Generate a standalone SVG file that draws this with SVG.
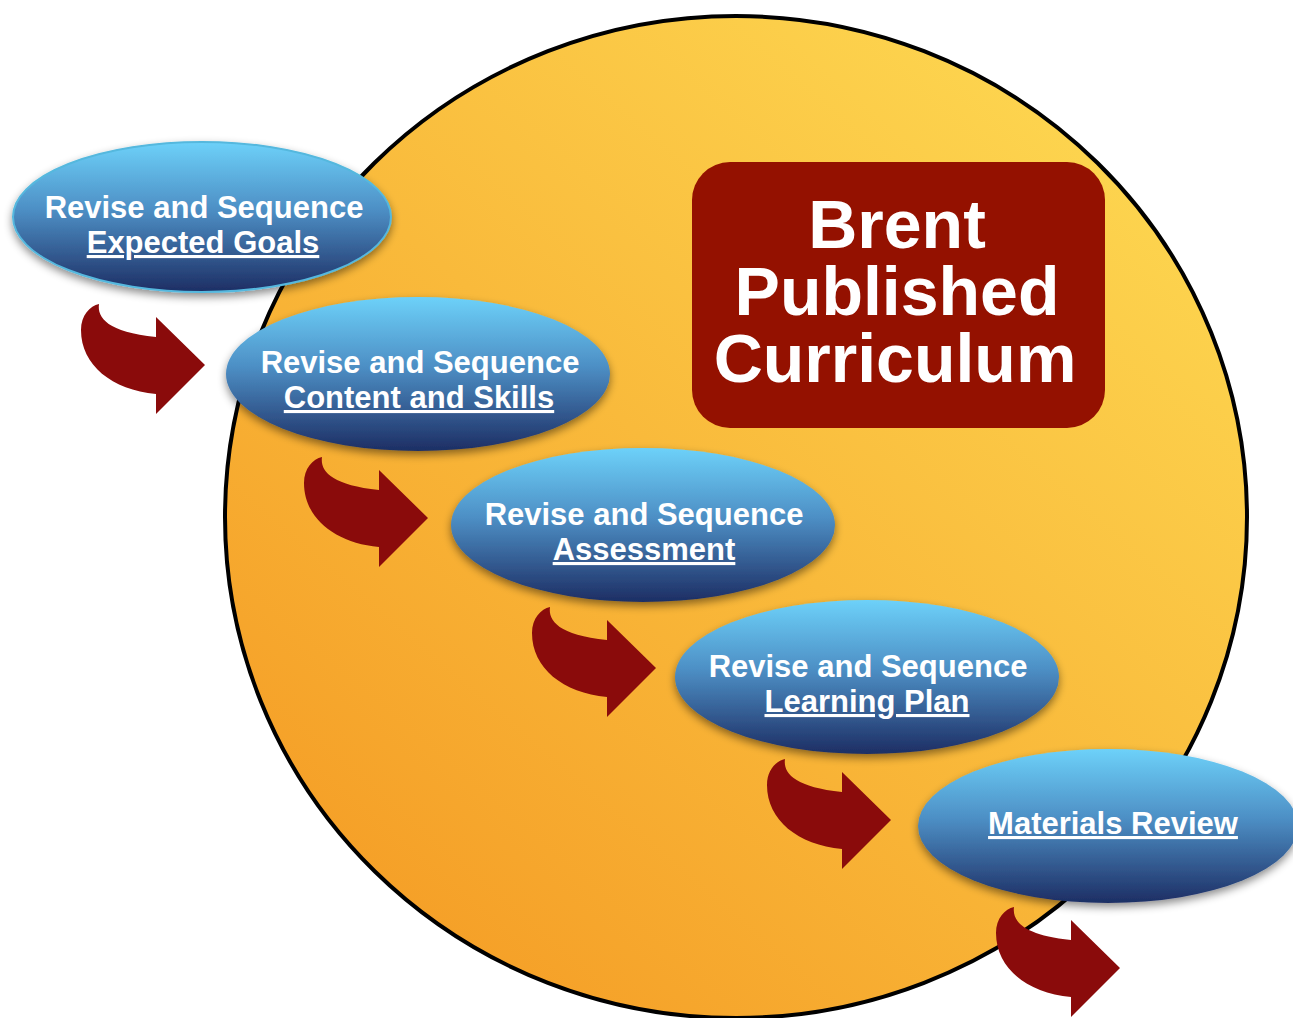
<svg xmlns="http://www.w3.org/2000/svg" width="1293" height="1018" viewBox="0 0 1293 1018">
<defs>
<style>
.lbl{font-family:"Liberation Sans",Arial,sans-serif;font-weight:bold;font-size:31px;fill:#ffffff;text-anchor:middle}
.u{text-decoration:underline}
.title{font-family:"Liberation Sans",Arial,sans-serif;font-weight:bold;font-size:68px;fill:#ffffff;text-anchor:middle}
.arrow{fill:#8A0B0B}
.oval{fill:url(#blue);filter:url(#sh)}
</style>
<linearGradient id="sun" x1="0.85" y1="0.1" x2="0.15" y2="0.9">
<stop offset="0" stop-color="#FDD54F"/>
<stop offset="1" stop-color="#F59F27"/>
</linearGradient>
<linearGradient id="blue" x1="0" y1="0" x2="0" y2="1">
<stop offset="0" stop-color="#6DD1F9"/>
<stop offset="0.45" stop-color="#4D8FC5"/>
<stop offset="1" stop-color="#1D2E64"/>
</linearGradient>
<filter id="sh" x="-20%" y="-20%" width="140%" height="150%">
<feDropShadow dx="0" dy="4" stdDeviation="4" flood-color="#000" flood-opacity="0.45"/>
</filter>
<path id="arr" d="M99,304 C97,318 108,332 156,337 L156,317 L205,365 L156,414 L156,394 C112,390 81,365 81,330 C81,315 90,306 99,304 Z"/>
</defs>
<rect width="1293" height="1018" fill="#ffffff"/>
<g id="circle">
<ellipse cx="736" cy="517" rx="511" ry="501" fill="url(#sun)" stroke="#000" stroke-width="4"/>
</g>
<g id="title">
<rect x="692" y="162" width="413" height="266" rx="38" fill="#941100"/>
<text class="title" x="897" y="248">Brent</text>
<text class="title" x="897" y="315">Published</text>
<text class="title" x="895" y="382">Curriculum</text>
</g>
<g id="node1">
<ellipse class="oval" cx="202" cy="217" rx="189" ry="75" stroke="#55B8DE" stroke-width="2"/>
<text class="lbl" x="204" y="218">Revise and Sequence</text>
<text class="lbl u" x="203" y="253">Expected Goals</text>
</g>
<g id="node2">
<ellipse class="oval" cx="418" cy="374" rx="192" ry="77"/>
<text class="lbl" x="420" y="373">Revise and Sequence</text>
<text class="lbl u" x="419" y="408">Content and Skills</text>
</g>
<g id="node3">
<ellipse class="oval" cx="643" cy="525" rx="192" ry="77"/>
<text class="lbl" x="644" y="525">Revise and Sequence</text>
<text class="lbl u" x="644" y="560">Assessment</text>
</g>
<g id="node4">
<ellipse class="oval" cx="867" cy="677" rx="192" ry="77"/>
<text class="lbl" x="868" y="677">Revise and Sequence</text>
<text class="lbl u" x="867" y="712">Learning Plan</text>
</g>
<g id="node5">
<ellipse class="oval" cx="1108" cy="826" rx="190" ry="77"/>
<text class="lbl u" x="1113" y="834">Materials Review</text>
</g>
<g id="connectors">
<use href="#arr" class="arrow"/>
<use href="#arr" class="arrow" transform="translate(223,153)"/>
<use href="#arr" class="arrow" transform="translate(451,303)"/>
<use href="#arr" class="arrow" transform="translate(686,455)"/>
<use href="#arr" class="arrow" transform="translate(915,603)"/>
</g>
</svg>
